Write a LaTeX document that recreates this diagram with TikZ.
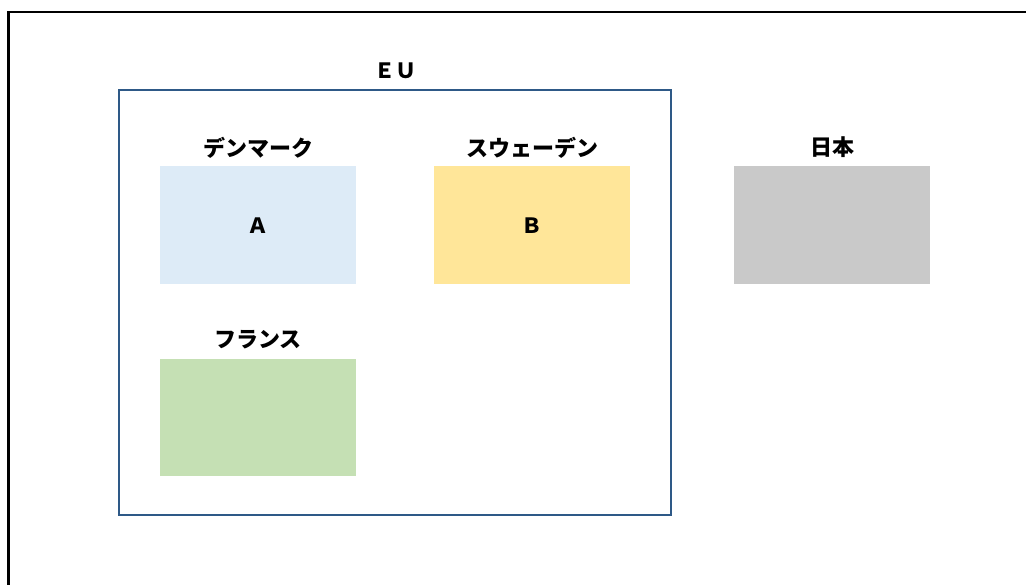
\documentclass[tikz,border=0pt]{standalone}
\usepackage{fontspec}
\setmainfont{Noto Sans CJK JP}
\definecolor{eublue}{RGB}{46,89,135}
\definecolor{cblue}{RGB}{221,235,247}
\definecolor{cyellow}{RGB}{255,230,153}
\definecolor{cgray}{RGB}{201,201,201}
\definecolor{cgreen}{RGB}{197,224,180}
\begin{document}
\begin{tikzpicture}[x=1pt,y=-1pt,
  country/.style={draw=none,minimum width=196pt,minimum height=118pt,inner sep=0pt,anchor=north west,
    font=\fontsize{21}{24}\selectfont\bfseries},
  lbl/.style={inner sep=0pt,font=\fontsize{22}{26}\selectfont\bfseries}]
\useasboundingbox (0,0) rectangle (1026,585);
\fill[white] (0,0) rectangle (1026,585);
\coordinate (fbl) at (8.5,585);
\coordinate (fc) at (8.5,12);
\coordinate (ftr) at (1026,12);
\draw[line width=2.4pt,black] (fbl) -- (fc) -- (ftr);
\node[draw=eublue,line width=2.2pt,minimum width=552pt,minimum height=425pt,inner sep=0pt,anchor=north west] (eu) at (118,89) {};
\node[lbl,font=\fontsize{21}{26}\selectfont\bfseries] (eulbl) at (395,70.5) {ＥＵ};
\node[country,fill=cblue] (dk) at (160,166) {Ａ};
\node[country,fill=cyellow] (se) at (434,166) {Ｂ};
\node[country,fill=cgray] (jp) at (734,166) {};
\node[country,fill=cgreen,minimum height=117pt] (fr) at (160,359) {};
\node[lbl] (dklbl) at (258,147.5) {デンマーク};
\node[lbl] (selbl) at (532,147.5) {スウェーデン};
\node[lbl] (jplbl) at (832,147.5) {日本};
\node[lbl] (frlbl) at (258,340) {フランス};
\end{tikzpicture}
\end{document}
